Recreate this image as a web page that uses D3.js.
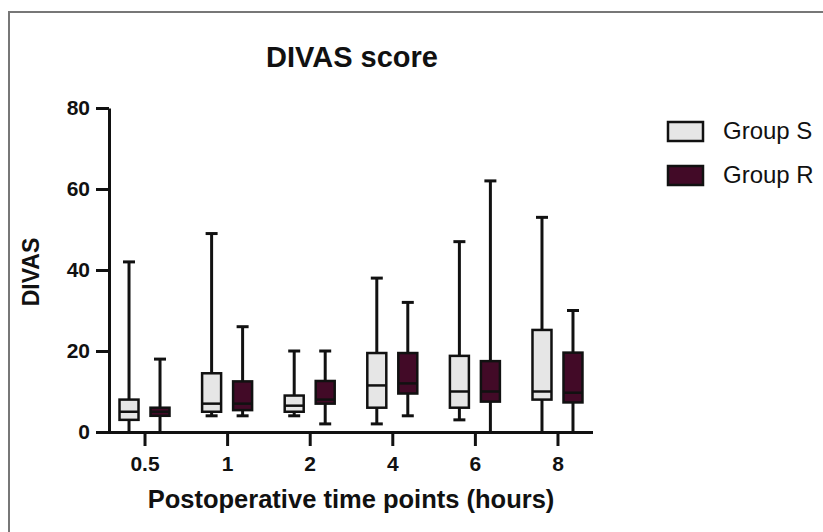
<!DOCTYPE html>
<html lang="en">
<head>
    <meta charset="UTF-8">
    <title>DIVAS score</title>
    <style>
        body {
            margin: 0;
            background: #fff;
            font-family: 'Liberation Sans', Arial, sans-serif;
        }
        svg {
            display: block;
        }
        .axis path, .axis line {
            stroke: #111;
            stroke-width: 3;
        }
        .axis text {
            font-size: 21px;
            font-weight: 700;
            fill: #111;
        }
    </style>
</head>
<body>
    <svg width="823" height="532"></svg>
    <script src="https://d3js.org/d3.v7.min.js"></script>
    <script>
        // Time points on the x axis (hours)
        const timePoints = ["0.5", "1", "2", "4", "6", "8"];
        const groups = ["Group S", "Group R"];

        // Box-and-whisker values
        const sMin    = [0, 4, 4, 2, 3, 0];
        const sQ1     = [3, 5, 5, 6, 6, 8];
        const sMedian = [5, 7, 6.5, 11.5, 10, 10];
        const sQ3     = [8, 14.5, 9, 19.5, 18.8, 25.2];
        const sMax    = [42, 49, 20, 38, 47, 53];

        const rMin    = [0, 4, 2, 4, 0, 0];
        const rQ1     = [4, 5.4, 7, 9.5, 7.5, 7.3];
        const rMedian = [5, 7, 8, 12, 10, 9.7];
        const rQ3     = [6, 12.5, 12.6, 19.5, 17.5, 19.6];
        const rMax    = [18, 26, 20, 32, 62, 30];

        const yTicks = [0, 20, 40, 60, 80];
        const colors = { "Group S": "#e6e6e6", "Group R": "#420a27" };

        const svg = d3.select("svg");

        // Outer frame (runs off the right and bottom of the picture)
        svg.append("path")
            .attr("d", "M9,540 L9,12 L830,12")
            .attr("fill", "none")
            .attr("stroke", "#777")
            .attr("stroke-width", 2);

        const x = d3.scalePoint()
            .domain(timePoints)
            .range([109, 593])
            .padding(0.43);

        const y = d3.scaleLinear()
            .domain([0, 80])
            .range([432, 108]);

        const offset = d3.scalePoint()
            .domain(groups)
            .range([-15.5, 15.5]);

        const boxW = 19;
        const capW = 12;

        // Build one row per box
        const rows = [];
        timePoints.forEach((t, i) => {
            rows.push({ t, g: "Group S", min: sMin[i], q1: sQ1[i], med: sMedian[i], q3: sQ3[i], max: sMax[i] });
            rows.push({ t, g: "Group R", min: rMin[i], q1: rQ1[i], med: rMedian[i], q3: rQ3[i], max: rMax[i] });
        });

        const boxes = svg.append("g")
            .selectAll("g")
            .data(rows)
            .join("g")
            .attr("transform", d => `translate(${x(d.t) + offset(d.g)},0)`);

        // whisker line
        boxes.append("line")
            .attr("x1", 0).attr("x2", 0)
            .attr("y1", d => y(d.min)).attr("y2", d => y(d.max))
            .attr("stroke", "#111").attr("stroke-width", 3);

        // caps
        boxes.append("line")
            .attr("x1", -capW / 2).attr("x2", capW / 2)
            .attr("y1", d => y(d.max)).attr("y2", d => y(d.max))
            .attr("stroke", "#111").attr("stroke-width", 3);
        boxes.filter(d => d.min > 0).append("line")
            .attr("x1", -capW / 2).attr("x2", capW / 2)
            .attr("y1", d => y(d.min)).attr("y2", d => y(d.min))
            .attr("stroke", "#111").attr("stroke-width", 3);

        // box
        boxes.append("rect")
            .attr("x", -boxW / 2)
            .attr("width", boxW)
            .attr("y", d => y(d.q3))
            .attr("height", d => y(d.q1) - y(d.q3))
            .attr("fill", d => colors[d.g])
            .attr("stroke", "#111")
            .attr("stroke-width", 2.5);

        // median
        boxes.append("line")
            .attr("x1", -boxW / 2).attr("x2", boxW / 2)
            .attr("y1", d => y(d.med)).attr("y2", d => y(d.med))
            .attr("stroke", "#111").attr("stroke-width", 2.5);

        // Axes
        svg.append("g")
            .attr("class", "axis")
            .attr("transform", "translate(109,0)")
            .call(d3.axisLeft(y).tickValues(yTicks).tickSize(13).tickPadding(6).tickSizeOuter(0));

        const xAxis = svg.append("g")
            .attr("class", "axis")
            .attr("transform", "translate(0,432)")
            .call(d3.axisBottom(x).tickSize(14).tickPadding(10).tickSizeOuter(0));
        xAxis.select(".domain").attr("d", "M96,0.5H593");

        // Title and axis labels
        svg.append("text")
            .attr("x", 352).attr("y", 67)
            .attr("text-anchor", "middle")
            .attr("font-size", 29).attr("font-weight", 700)
            .attr("fill", "#111")
            .text("DIVAS score");

        svg.append("text")
            .attr("transform", "translate(39,272) rotate(-90)")
            .attr("text-anchor", "middle")
            .attr("font-size", 23).attr("font-weight", 700)
            .attr("fill", "#111")
            .text("DIVAS");

        svg.append("text")
            .attr("x", 351).attr("y", 508)
            .attr("text-anchor", "middle")
            .attr("font-size", 25.5).attr("font-weight", 700)
            .attr("fill", "#111")
            .text("Postoperative time points (hours)");

        // Legend
        const legend = svg.append("g")
            .selectAll("g")
            .data(groups)
            .join("g")
            .attr("transform", (d, i) => `translate(668,${122 + i * 44})`);
        legend.append("rect")
            .attr("width", 35).attr("height", 19)
            .attr("fill", d => colors[d])
            .attr("stroke", "#111")
            .attr("stroke-width", 2.5);
        legend.append("text")
            .attr("x", 55).attr("y", 17)
            .attr("font-size", 24)
            .attr("fill", "#111")
            .text(d => d);
    </script>
</body>
</html>
